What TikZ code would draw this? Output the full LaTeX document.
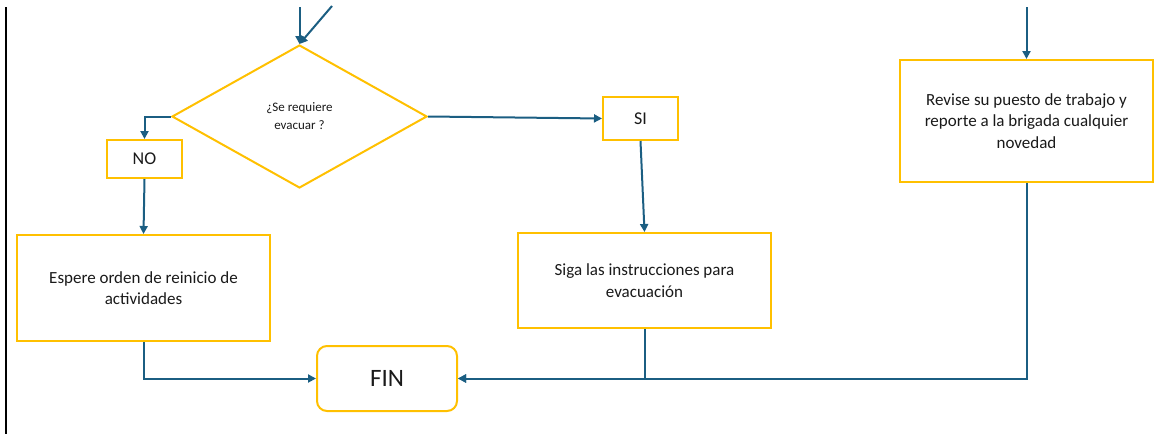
\documentclass[tikz,border=0pt]{standalone}
\usepackage{fontspec}
\setmainfont{Carlito}
\usetikzlibrary{shapes.geometric,arrows.meta}
\definecolor{gold}{HTML}{FFC000}
\definecolor{tealc}{HTML}{1B5E82}
\definecolor{txt}{HTML}{1A1A1A}
\begin{document}
\begin{tikzpicture}[x=1pt,y=-1pt,
  box/.style={draw=gold,line width=2pt,fill=white,inner sep=0pt,align=center,text=txt,font=\fontsize{17}{21.5}\selectfont},
  conn/.style={draw=tealc,line width=2pt,-{Triangle[length=8pt,width=8pt]}},
  plain/.style={draw=tealc,line width=2pt}]
\useasboundingbox (0,0) rectangle (1160,434);
\draw[line width=2.5pt] (6,7) -- (6,434);
% nodes
\node[diamond,draw=gold,line width=2pt,fill=white,inner sep=0pt,minimum width=255pt,minimum height=143pt,align=center,text=txt,font=\fontsize{13}{18}\selectfont] (dia) at (299.5,116.5) {¿Se requiere\\evacuar ?};
\node[box,minimum width=75pt,minimum height=38pt,font=\fontsize{18}{21}\selectfont] (no) at (144.5,159) {NO};
\node[box,minimum width=75pt,minimum height=43pt,font=\fontsize{18}{21}\selectfont] (si) at (640.5,118.5) {SI};
\node[box,minimum width=253pt,minimum height=106pt] (esp) at (143.5,288) {Espere orden de reinicio de\\actividades};
\node[box,minimum width=253pt,minimum height=95pt] (siga) at (644.5,280.5) {Siga las instrucciones para\\evacuación};
\node[box,minimum width=253pt,minimum height=122pt] (rev) at (1026.5,121) {Revise su puesto de trabajo y\\reporte a la brigada cualquier\\novedad};
\node[box,rounded corners=10pt,minimum width=140pt,minimum height=65pt,font=\fontsize{25}{28}\selectfont] (fin) at (387,378.5) {FIN};
% free ends
\coordinate (in1) at (299.5,7);
\coordinate (in2) at (332,6);
\coordinate (in3) at (1026.5,7);
% connectors
\draw[conn] (in1) -- (dia.north);
\draw[conn] (in2) -- (dia.north);
\draw[conn] (in3) -- (rev.north);
\draw[conn] (dia.west) -| (no.north);
\draw[conn] (no.south) -- (esp.north);
\draw[conn] (dia.east) -- (si.west);
\draw[conn] (si.south) -- (siga.north);
\draw[conn] (esp.south) |- (fin.west);
\draw[conn] (siga.south) |- (fin.east);
\draw[conn] (rev.south) |- (fin.east);
\end{tikzpicture}
\end{document}
